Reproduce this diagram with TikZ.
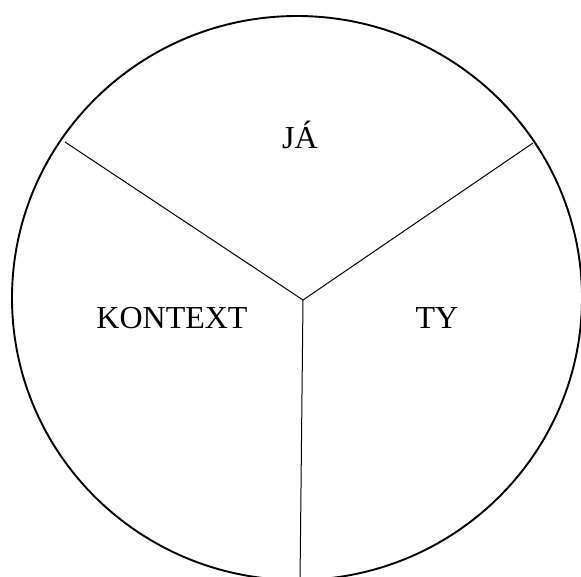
\documentclass[tikz,border=0pt]{standalone}
\usepackage{fontspec}
\setmainfont{Liberation Serif}
\begin{document}
\begin{tikzpicture}[x=1pt,y=-1pt,
  rim/.style={line width=1.9pt,black},
  spoke/.style={line width=1pt,black},
  lbl/.style={anchor=base,inner sep=0pt,font=\fontsize{32}{36}\selectfont}]
\useasboundingbox (0,0) rectangle (581,576);
\clip (0,0) rectangle (581,576);
\draw[rim] (297,298) ellipse [x radius=285, y radius=282];
\coordinate (c) at (303,300);
\coordinate (tl) at (65,142);
\coordinate (tr) at (533,143);
\coordinate (bt) at (300,582);
\draw[spoke] (tl) -- (c) -- (tr);
\draw[spoke] (c) -- (bt);
\node[lbl] (ja) at (300,148) {JÁ};
\node[lbl] (kontext) at (172,328) {KONTEXT};
\node[lbl] (ty) at (437,328) {TY};
\end{tikzpicture}
\end{document}
